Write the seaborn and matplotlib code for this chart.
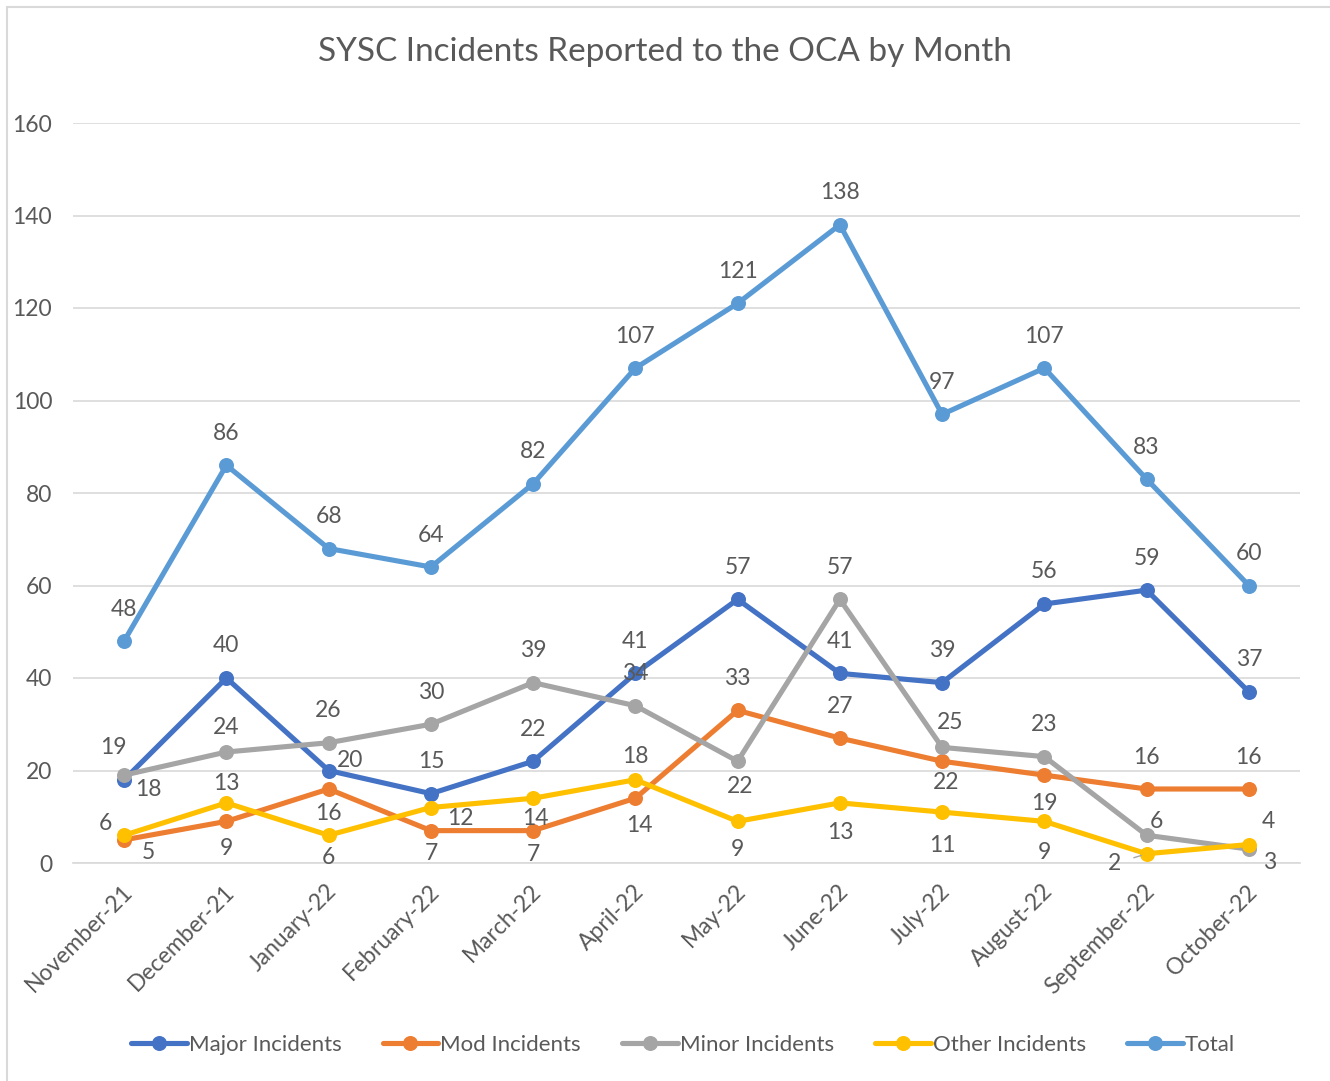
import numpy as np
import pandas as pd
import matplotlib
matplotlib.use("Agg")
import matplotlib.pyplot as plt
from matplotlib.lines import Line2D
from matplotlib.patches import Rectangle
import seaborn as sns

# ---------------- data ----------------
months = ["November-21", "December-21", "January-22", "February-22", "March-22",
          "April-22", "May-22", "June-22", "July-22", "August-22",
          "September-22", "October-22"]
major = [18, 40, 20, 15, 22, 41, 57, 41, 39, 56, 59, 37]
mod = [5, 9, 16, 7, 7, 14, 33, 27, 22, 19, 16, 16]
minor = [19, 24, 26, 30, 39, 34, 22, 57, 25, 23, 6, 3]
other = [6, 13, 6, 12, 14, 18, 9, 13, 11, 9, 2, 4]
total = [48, 86, 68, 64, 82, 107, 121, 138, 97, 107, 83, 60]
series_names = ["Major Incidents", "Mod Incidents", "Minor Incidents",
                "Other Incidents", "Total"]
title = "SYSC Incidents Reported to the OCA by Month"
y_ticks = [0, 20, 40, 60, 80, 100, 120, 140, 160]

# ---------------- style ----------------
colors = ["#4472C4", "#ED7D31", "#A5A5A5", "#FFC000", "#5B9BD5"]
text_color = "#595959"
grid_color = "#D9D9D9"
FS = 16.5

# label offsets in pixels (dx, dy; dy positive = up)
U = (0, 32)
label_offsets = {
    "Major Incidents": [(24, -10), U, (21, 10), U, U, U, U, U, U, U, U, U],
    "Mod Incidents": [(24, -13), (0, -27), (0, -25), (0, -23), (0, -24), (4, -27),
                      U, U, (4, -21), (0, -28), U, U],
    "Minor Incidents": [(-11, 28), (0, 25), U, U, U, U, (2, -25), U, (8, 25), U,
                        (10, 14), (21, -13)],
    "Other Incidents": [(-19, 12), (0, 19), (0, -22), (29, -11), (2, -20), (0, 23),
                        (0, -28), (0, -30), (0, -33), (0, -31), (-32, -10), (19, 23)],
    "Total": [U] * 12,
}

values = [major, mod, minor, other, total]
x_idx = np.arange(len(months))
df = pd.concat([
    pd.DataFrame({"x": x_idx, "Month": months, "Count": v, "Series": name})
    for name, v in zip(series_names, values)
], ignore_index=True)

sns.set_theme(style="white")
plt.rcParams["font.family"] = ["Lato", "DejaVu Sans"]

W, H = 1330, 1081
fig = plt.figure(figsize=(W / 100, H / 100), dpi=100)
ax = fig.add_axes([73 / W, 1 - 863 / H, (1300 - 73) / W, (863 - 123) / H])

sns.lineplot(data=df, x="x", y="Count", hue="Series", hue_order=series_names,
             palette=colors, marker="o", markersize=10.8, markeredgewidth=0,
             linewidth=3.7, sort=False, ax=ax, legend=False, zorder=3)

# data labels
for name, v in zip(series_names, values):
    for i, val in enumerate(v):
        dx, dy = label_offsets[name][i]
        kw = {}
        if name == "Other Incidents" and i == 10:
            kw["arrowprops"] = dict(arrowstyle="-", color="#A6A6A6", lw=1,
                                    shrinkA=7, shrinkB=4)
        ax.annotate(str(val), xy=(x_idx[i], val), xytext=(dx, dy),
                    textcoords="offset pixels", ha="center", va="center",
                    fontsize=FS, color=text_color, zorder=5, **kw)

ax.set_xlim(-0.5, len(months) - 0.5)
ax.set_ylim(0, 160)
ax.set_yticks(y_ticks)
ax.set_yticklabels([str(t) for t in y_ticks], fontsize=FS, color=text_color)
ax.yaxis.grid(True, color=grid_color, linewidth=1.2, zorder=0)
ax.set_axisbelow(True)
ax.tick_params(axis="y", length=0, pad=15)

# category labels (rotated), placed explicitly
ax.set_xticks(x_idx)
ax.set_xticklabels([])
for i, m in enumerate(months):
    ax.annotate(m, xy=(x_idx[i], 0), xycoords=("data", "axes fraction"),
                xytext=(5, -25), textcoords="offset pixels", rotation=45,
                rotation_mode="anchor", ha="right", va="center",
                fontsize=FS, color=text_color, annotation_clip=False)
ax.set_xticks(np.arange(-0.5, len(months), 1.0), minor=True)
ax.tick_params(axis="x", which="major", length=0)
ax.tick_params(axis="x", which="minor", length=7, width=1.2, color=grid_color,
               direction="out")
ax.set_xlabel("")
ax.set_ylabel("")

for s in ["top", "right", "left"]:
    ax.spines[s].set_visible(False)
ax.spines["bottom"].set_color(grid_color)
ax.spines["bottom"].set_linewidth(1.2)

fig.text(0.5, 1 - 52 / H, title, ha="center", va="center", fontsize=24,
         color=text_color)

handles = [Line2D([0], [0], color=c, lw=3.7, marker="o", markersize=10.8,
                  markeredgewidth=0) for c in colors]
fig.legend(handles, series_names, loc="center",
           bbox_to_anchor=(683 / W, 1 - 1045 / H),
           ncol=5, frameon=False, fontsize=16, labelcolor=text_color,
           handlelength=2.5, handletextpad=0.1, columnspacing=1.85)

# chart border (only top/left visible)
fig.add_artist(Rectangle((7 / W, -0.05), 1.2, 1 - 7 / H + 0.05,
                         transform=fig.transFigure, fill=False,
                         edgecolor="#D9D9D9", linewidth=1.5))

fig.savefig("out.png", dpi=100, facecolor="white")
